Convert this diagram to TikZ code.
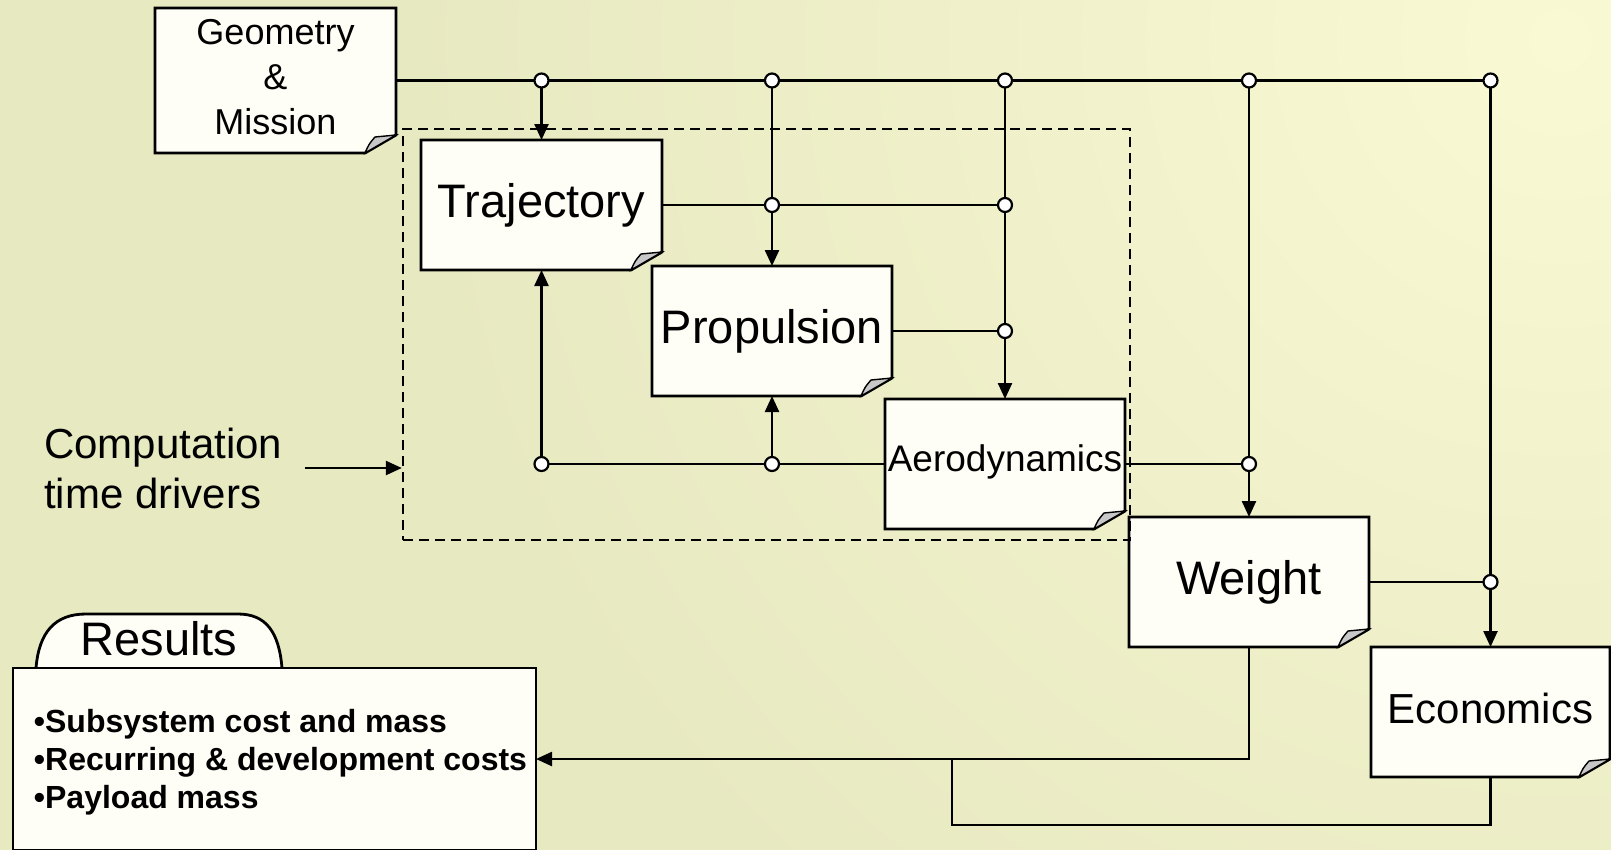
\documentclass[tikz,border=0pt]{standalone}
\usepackage{fontspec}
\setmainfont{Liberation Sans}
\usetikzlibrary{arrows.meta,calc}
\definecolor{canvasA}{HTML}{E7E9C1}
\definecolor{canvasB}{HTML}{F9F9D3}
\definecolor{paper}{HTML}{FEFEF6}
\definecolor{curl}{HTML}{C8C8C8}
\pgfdeclarelayer{canvas}
\pgfdeclarelayer{sheet}
\pgfsetlayers{canvas,sheet,main}

\begin{document}
\begin{tikzpicture}[x=1pt,y=-1pt,
  module/.style={inner sep=0pt,outer sep=0pt,align=center,minimum width=240pt,minimum height=130pt},
  big/.style={font=\fontsize{47}{56}\selectfont},
  paperbox/.style={draw,line width=2.8pt,fill=paper,line join=miter},
  wire/.style={line width=2.4pt},
  feed/.style={wire,-{Triangle[length=16pt,width=14pt]}},
  junction/.style={draw,line width=2.2pt,fill=white}]
  \useasboundingbox (0,0) rectangle (1611,849);

  % Background
  \begin{pgfonlayer}{canvas}
    \fill[canvasA] (-10,-10) rectangle (1621,859);
    \begin{scope}
      \clip (-10,-10) rectangle (1621,859);
      \shade[inner color=canvasB,outer color=canvasA] (1560,40) circle (1150pt);
    \end{scope}
  \end{pgfonlayer}

  % Modules
  \node[module,minimum width=241pt,minimum height=145pt,text depth=8pt,font=\fontsize{36}{45}\selectfont] (geo) at (275.5,80.5) {Geometry\\\&\\Mission};
  \node[module,minimum width=241pt,big] (traj) at (541.5,205) {Trajectory};
  \node[module,big] (prop) at (772,331) {Propulsion};
  \node[module,text depth=12pt,font=\fontsize{37}{44}\selectfont] (aero) at (1005,464) {Aerodynamics};
  \node[module,big] (wt) at (1249,582) {Weight};
  \node[module,minimum width=239pt,text depth=8pt,font=\fontsize{42}{50}\selectfont] (econ) at (1490.5,712) {Economics};

  % Results
  \node[inner sep=0pt,outer sep=0pt,anchor=north west,minimum width=523pt,minimum height=182pt,text depth=-3pt,align=left,
    font=\bfseries\fontsize{32}{38}\selectfont] (res) at (13,668)
    {\hspace*{12pt}\textbullet Subsystem cost and mass\\\hspace*{12pt}\textbullet Recurring \& development costs\\\hspace*{12pt}\textbullet Payload mass};
  \node[big,inner sep=0pt] (tab) at (159,639) {Results};

  % Paper sheets with folded corner
  \begin{pgfonlayer}{sheet}
    \foreach \m in {geo,traj,prop,aero,wt,econ}{
      \draw[paperbox] (\m.north west) -- (\m.north east) -- ([yshift=18pt]\m.south east)
        -- ([xshift=-31pt]\m.south east) -- (\m.south west) -- cycle;
      \filldraw[fill=curl,line width=1.4pt] ([xshift=-31pt]\m.south east)
        .. controls ([xshift=-27pt,yshift=9pt]\m.south east) .. ([xshift=-21pt,yshift=16pt]\m.south east)
        -- ([yshift=18pt]\m.south east) -- cycle;
    }
    \filldraw[paperbox] (36,668) .. controls (39,632) and (55,614) .. (86,614) -- (238,614)
      .. controls (266,614) and (279,632) .. (282,668);
    \draw[paperbox] (res.south west) rectangle (res.north east);
  \end{pgfonlayer}

  % Computation time drivers
  \node[draw,line width=2.4pt,dash pattern=on 10pt off 6pt,inner sep=0pt,
    minimum width=727pt,minimum height=411pt] (core) at (766.5,334.5) {};
  \node[anchor=west,align=left,inner sep=0pt,font=\fontsize{42}{50}\selectfont] (drivers) at (44,468)
    {Computation\\time drivers};
  \draw[feed] ([xshift=22pt]drivers.east) -- (drivers.east -| core.west);

  % Junction points
  \coordinate (gTraj) at (traj.north |- geo.east);
  \coordinate (gProp) at (prop.north |- geo.east);
  \coordinate (gAero) at (aero.north |- geo.east);
  \coordinate (gWt) at (wt.north |- geo.east);
  \coordinate (gEcon) at (econ.north |- geo.east);
  \coordinate (tProp) at (prop.north |- traj.east);
  \coordinate (tAero) at (aero.north |- traj.east);
  \coordinate (pAero) at (aero.north |- prop.east);
  \coordinate (aTraj) at (traj.south |- aero.west);
  \coordinate (aProp) at (prop.south |- aero.west);
  \coordinate (aWt) at (wt.north |- aero.east);
  \coordinate (wEcon) at (econ.north |- wt.east);
  \coordinate (loop) at (952,825);

  % Data lines
  \draw[wire] (geo.east) -- (gEcon);
  \draw[wire] (traj.east) -- (tAero);
  \draw[wire] (prop.east) -- (pAero);
  \draw[wire] (aero.west) -- (aTraj);
  \draw[wire] (aero.east) -- (aWt);
  \draw[wire] (wt.east) -- (wEcon);
  \draw[feed] (gTraj) -- (traj.north);
  \draw[feed] (gProp) -- (prop.north);
  \draw[feed] (gAero) -- (aero.north);
  \draw[feed] (gWt) -- (wt.north);
  \draw[feed] (gEcon) -- (econ.north);
  \draw[feed] (aTraj) -- (traj.south);
  \draw[feed] (aProp) -- (prop.south);
  \draw[feed] (wt.south) |- (res.east);
  \draw[wire] (econ.south) |- (loop) -- (loop |- res.east);

  \foreach \j in {gTraj,gProp,gAero,gWt,gEcon,tProp,tAero,pAero,aTraj,aProp,aWt,wEcon}
    \draw[junction] (\j) circle (7pt);
\end{tikzpicture}
\end{document}
